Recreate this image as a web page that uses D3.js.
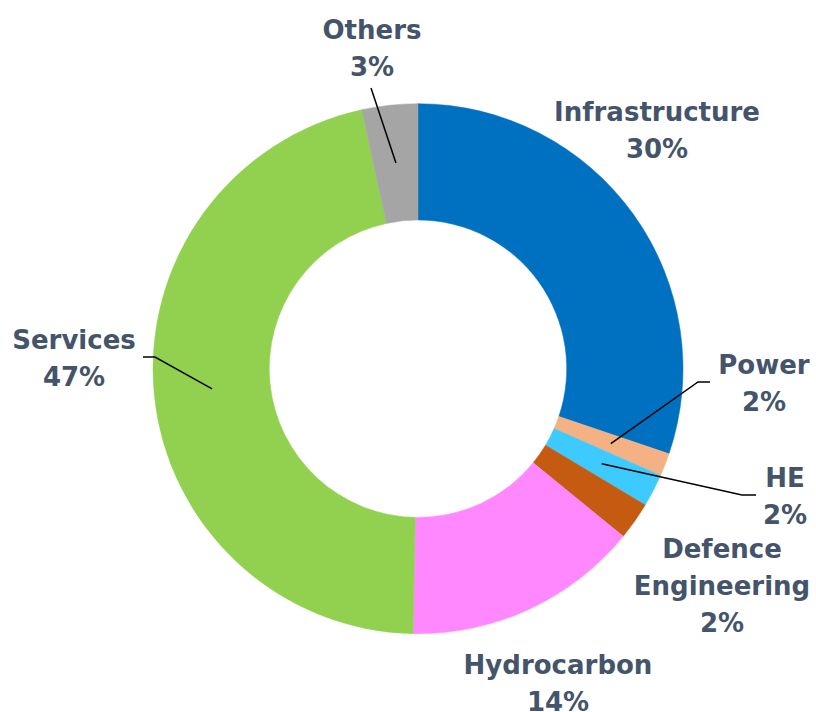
<!DOCTYPE html>
<html>
<head>
<meta charset="utf-8">
<script src="https://cdn.jsdelivr.net/npm/d3@7"></script>
<style>
    body { margin: 0; background: #fff; }
    #chart text { font-family: "DejaVu Sans", sans-serif; font-weight: 700; fill: #44546A; }
</style>
</head>
<body>
<div id="chart"></div>
<script>

// chart data
var categories = ["Infrastructure", "Power", "HE", "Defence Engineering", "Hydrocarbon", "Services", "Others"];
var shares = [30.2, 1.4, 2.0, 2.3, 14.4, 46.3, 3.4];
var shareLabels = ["30%", "2%", "2%", "2%", "14%", "47%", "3%"];
var colors = ["#0070C0", "#F4B183", "#3DCBFF", "#C55A11", "#FF88FF", "#92D050", "#A5A5A5"];

// label layout (text lines, first baseline, optional leader)
var labelLayout = {
    "Infrastructure": { lines: ["Infrastructure"], x: 657, y: 121 },
    "Power": { lines: ["Power"], x: 764, y: 374, elbow: [698, 382], end: [710, 382] },
    "HE": { lines: ["HE"], x: 785, y: 487, elbow: [742, 495], end: [756, 495] },
    "Defence Engineering": { lines: ["Defence", "Engineering"], x: 722, y: 558 },
    "Hydrocarbon": { lines: ["Hydrocarbon"], x: 558, y: 674 },
    "Services": { lines: ["Services"], x: 74, y: 349, elbow: [155, 357], end: [143, 357] },
    "Others": { lines: ["Others"], x: 372, y: 39, elbow: [371, 88], end: [371, 88] }
};

var width = 816;
var height = 712;
var cx = 418;
var cy = 368.7;
var outerRadius = 265;
var innerRadius = 148.7;
var lineHeight = 37;
var fontSize = 26;

var svg = d3.select("#chart")
    .append("svg")
    .attr("width", width)
    .attr("height", height);

var pie = d3.pie()
    .sort(null)
    .value(d => d.value);

var arc = d3.arc()
    .innerRadius(innerRadius)
    .outerRadius(outerRadius);

var items = categories.map((c, i) => ({ name: c, value: shares[i], label: shareLabels[i], color: colors[i] }));
var arcs = pie(items);

var donut = svg.append("g")
    .attr("transform", "translate(" + cx + "," + cy + ")");

donut.selectAll("path.slice")
    .data(arcs)
    .enter().append("path")
    .attr("class", "slice")
    .attr("d", arc)
    .attr("fill", d => d.data.color)
    .attr("stroke", d => d.data.color)
    .attr("stroke-width", 0.5);

// leader lines
var leaders = svg.append("g").attr("class", "leaders");

arcs.forEach(function (d) {
    var lay = labelLayout[d.data.name];
    if (!lay.elbow) return;
    var c = arc.centroid(d);
    var pts = [[cx + c[0], cy + c[1]], lay.elbow, lay.end];
    leaders.append("path")
        .attr("d", d3.line()(pts))
        .attr("fill", "none")
        .attr("stroke", "#000")
        .attr("stroke-width", 1.5);
});

// labels
var labels = svg.append("g").attr("class", "labels");

arcs.forEach(function (d) {
    var lay = labelLayout[d.data.name];
    var text = labels.append("text")
        .attr("text-anchor", "middle")
        .attr("font-size", fontSize);
    lay.lines.concat([d.data.label]).forEach(function (line, i) {
        text.append("tspan")
            .attr("x", lay.x)
            .attr("y", lay.y + i * lineHeight)
            .text(line);
    });
});

</script>
</body>
</html>
